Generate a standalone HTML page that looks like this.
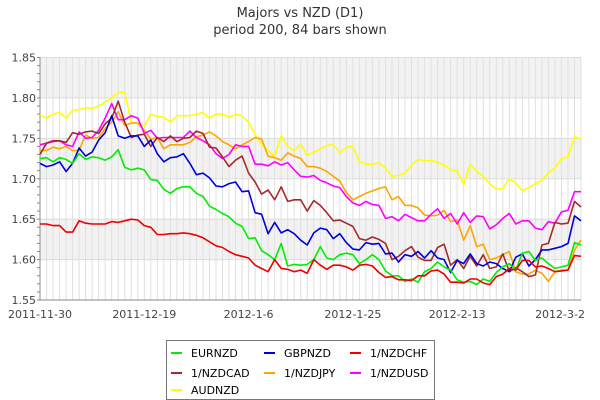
<!DOCTYPE html>
<html><head><meta charset="utf-8"><style>
body{margin:0;background:#fff;}
svg{display:block;font-family:"DejaVu Sans","Liberation Sans",sans-serif;}
</style></head><body>
<svg id="chart" width="600" height="400" viewBox="0 0 600 400">
<text x="300" y="17" text-anchor="middle" font-size="13" fill="#333">Majors vs NZD (D1)</text>
<text x="300" y="34" text-anchor="middle" font-size="13" fill="#333">period 200, 84 bars shown</text>
<g id="plot"></g>
<g>
<rect x="166.5" y="340.5" width="268" height="59" fill="#fff" stroke="#777"/>
<g id="legend-items"></g>
</g>
</svg>
<script>
const dateLabels=["2011-11-30","2011-12-19","2012-1-6","2012-1-25","2012-2-13","2012-3-2"];
const dateIdx=[0,16,32,48,64,83];
const yTicks=[1.55,1.60,1.65,1.70,1.75,1.80,1.85];
const seriesNames=["EURNZD","GBPNZD","1/NZDCHF","1/NZDCAD","1/NZDJPY","1/NZDUSD","AUDNZD"];
const seriesColors=["#00ee00","#0000dd","#ee0000","#a52a2a","#ffa500","#ff00ff","#ffff00"];
const eurnzd=[1.725,1.726,1.721,1.726,1.724,1.719,1.731,1.724,1.727,1.726,1.723,1.727,1.736,1.714,1.711,1.713,1.711,1.699,1.698,1.687,1.682,1.688,1.69,1.69,1.682,1.678,1.666,1.662,1.657,1.653,1.645,1.641,1.626,1.627,1.611,1.606,1.6,1.62,1.592,1.594,1.593,1.594,1.6,1.616,1.602,1.6,1.606,1.608,1.606,1.595,1.6,1.606,1.6,1.586,1.58,1.58,1.573,1.576,1.572,1.585,1.589,1.597,1.591,1.587,1.575,1.572,1.573,1.569,1.576,1.573,1.584,1.591,1.595,1.587,1.608,1.61,1.599,1.602,1.595,1.589,1.591,1.593,1.621,1.618];
const gbpnzd=[1.719,1.715,1.717,1.721,1.709,1.719,1.738,1.728,1.733,1.748,1.757,1.778,1.753,1.75,1.753,1.753,1.74,1.748,1.731,1.721,1.726,1.727,1.731,1.719,1.705,1.707,1.701,1.691,1.69,1.694,1.696,1.684,1.685,1.658,1.656,1.632,1.646,1.633,1.637,1.632,1.624,1.618,1.633,1.639,1.637,1.626,1.632,1.621,1.613,1.612,1.621,1.619,1.62,1.607,1.608,1.597,1.606,1.604,1.61,1.602,1.611,1.602,1.6,1.584,1.599,1.595,1.607,1.595,1.592,1.597,1.595,1.589,1.585,1.603,1.607,1.592,1.6,1.612,1.612,1.614,1.616,1.62,1.654,1.648];
const nzdchf=[1.644,1.644,1.642,1.642,1.634,1.634,1.648,1.645,1.644,1.644,1.644,1.647,1.646,1.648,1.65,1.649,1.642,1.64,1.631,1.631,1.632,1.632,1.633,1.632,1.63,1.627,1.622,1.617,1.615,1.61,1.606,1.604,1.602,1.593,1.589,1.585,1.6,1.589,1.588,1.585,1.587,1.583,1.6,1.593,1.588,1.593,1.593,1.591,1.587,1.593,1.594,1.592,1.584,1.578,1.579,1.575,1.575,1.574,1.58,1.58,1.586,1.587,1.582,1.572,1.572,1.571,1.576,1.576,1.571,1.569,1.579,1.582,1.589,1.587,1.599,1.599,1.591,1.592,1.589,1.585,1.586,1.587,1.605,1.604];
const nzdcad=[1.73,1.744,1.747,1.747,1.745,1.757,1.755,1.758,1.759,1.756,1.768,1.775,1.796,1.77,1.751,1.754,1.755,1.74,1.751,1.746,1.753,1.746,1.75,1.751,1.759,1.756,1.739,1.738,1.727,1.715,1.723,1.728,1.707,1.696,1.681,1.686,1.674,1.69,1.672,1.674,1.674,1.66,1.673,1.667,1.658,1.648,1.649,1.645,1.641,1.626,1.624,1.628,1.625,1.62,1.6,1.604,1.611,1.616,1.603,1.599,1.599,1.615,1.619,1.593,1.6,1.589,1.604,1.592,1.606,1.589,1.591,1.607,1.585,1.59,1.585,1.579,1.581,1.618,1.62,1.646,1.644,1.645,1.672,1.665];
const nzdjpy=[1.735,1.735,1.739,1.737,1.74,1.735,1.735,1.754,1.75,1.751,1.762,1.77,1.783,1.766,1.769,1.769,1.76,1.749,1.751,1.737,1.742,1.742,1.742,1.745,1.752,1.754,1.758,1.753,1.746,1.742,1.737,1.742,1.746,1.751,1.749,1.728,1.726,1.723,1.732,1.728,1.725,1.715,1.715,1.713,1.709,1.703,1.697,1.683,1.674,1.678,1.682,1.685,1.688,1.69,1.674,1.678,1.667,1.667,1.664,1.655,1.654,1.655,1.661,1.647,1.649,1.624,1.642,1.616,1.619,1.6,1.602,1.606,1.61,1.585,1.582,1.582,1.587,1.583,1.573,1.585,1.587,1.587,1.612,1.624];
const nzdusd=[1.742,1.744,1.746,1.747,1.742,1.74,1.758,1.75,1.751,1.76,1.775,1.793,1.773,1.773,1.778,1.775,1.756,1.76,1.75,1.751,1.751,1.751,1.751,1.759,1.751,1.747,1.742,1.731,1.725,1.73,1.742,1.74,1.74,1.718,1.718,1.716,1.721,1.717,1.72,1.711,1.703,1.702,1.704,1.698,1.695,1.691,1.689,1.678,1.67,1.667,1.672,1.668,1.667,1.651,1.653,1.648,1.656,1.652,1.648,1.648,1.656,1.663,1.651,1.657,1.644,1.658,1.646,1.654,1.653,1.638,1.643,1.651,1.657,1.644,1.648,1.648,1.639,1.637,1.647,1.645,1.659,1.661,1.684,1.684];
const audnzd=[1.779,1.775,1.78,1.782,1.775,1.785,1.785,1.788,1.787,1.79,1.795,1.8,1.807,1.807,1.77,1.768,1.765,1.78,1.777,1.776,1.77,1.778,1.778,1.778,1.78,1.782,1.775,1.78,1.78,1.776,1.78,1.778,1.77,1.755,1.742,1.735,1.728,1.753,1.74,1.735,1.743,1.729,1.733,1.737,1.741,1.742,1.732,1.739,1.74,1.721,1.718,1.718,1.72,1.713,1.703,1.704,1.707,1.717,1.724,1.722,1.723,1.72,1.717,1.711,1.71,1.693,1.718,1.709,1.703,1.694,1.687,1.688,1.7,1.695,1.685,1.689,1.694,1.698,1.707,1.713,1.725,1.727,1.752,1.749];
const seriesData=[eurnzd,gbpnzd,nzdchf,nzdcad,nzdjpy,nzdusd,audnzd];
const drawOrder=[6,4,5,3,1,0,2];

const NS="http://www.w3.org/2000/svg";
const L=40,R=581,T=57.5,B=300,N=84;
const xs=i=>L+(R-L)*i/(N-1);
const ys=v=>B-(v-1.55)/(1.85-1.55)*(B-T);
function mk(tag,attrs,parent){const e=document.createElementNS(NS,tag);for(const k in attrs)e.setAttribute(k,attrs[k]);parent.appendChild(e);return e;}
const plot=document.getElementById('plot');
// bands
for(let k=0;k<yTicks.length-1;k++){
  if(k%2===1){const r=mk('rect',{x:L,y:ys(yTicks[k+1]),width:R-L,height:ys(yTicks[k])-ys(yTicks[k+1]),fill:'#f2f2f2'},plot);
  
  }
}
for(let i=0;i<N;i++){const l=mk('line',{x1:xs(i),x2:xs(i),y1:T,y2:B,stroke:'#e0e0e0','stroke-width':1},plot);

}
yTicks.forEach(v=>{const l=mk('line',{x1:L,x2:R,y1:ys(v),y2:ys(v),stroke:'#dcdcdc','stroke-width':1},plot);


const t=mk('text',{x:L-4,y:ys(v)+4,'text-anchor':'end','font-size':11,fill:'#444'},plot);t.textContent=v.toFixed(2);

});
// minor y ticks
for(let v=1.55;v<=1.851;v+=0.01){const l=mk('line',{x1:L-3,x2:L,y1:ys(v),y2:ys(v),stroke:'#888'},plot);

}
const ax=mk('line',{x1:L,x2:L,y1:T,y2:B,stroke:'#888'},plot);


const bx=mk('line',{x1:L,x2:R,y1:B,y2:B,stroke:'#888'},plot);


dateLabels.forEach((d,k)=>{const t=mk('text',{x:xs(dateIdx[k]),y:318,'text-anchor':k===dateLabels.length-1?'end':'middle','font-size':11,fill:'#444'},plot);
if(k===dateLabels.length-1)t.setAttribute('x',R+4);
t.textContent=d;

});
drawOrder.forEach(s=>{const d=seriesData[s].map((v,i)=>(i?'L':'M')+xs(i).toFixed(1)+' '+ys(v).toFixed(1)).join(' ');
const p=mk('path',{d:d,fill:'none',stroke:seriesColors[s],'stroke-width':1.6,'stroke-linejoin':'round'},plot);

});
// legend
const lg=document.getElementById('legend-items');
const colX=[171,264,350],rowY=[353,373,390];
seriesNames.forEach((n,s)=>{const cx=colX[s%3],cy=rowY[Math.floor(s/3)];
const sw=mk('line',{x1:cx,x2:cx+11,y1:cy,y2:cy,stroke:seriesColors[s],'stroke-width':2},lg);


const t=mk('text',{x:cx+20,y:cy+4,'font-size':11,fill:'#000'},lg);t.textContent=n;

});
</script>
</body></html>
